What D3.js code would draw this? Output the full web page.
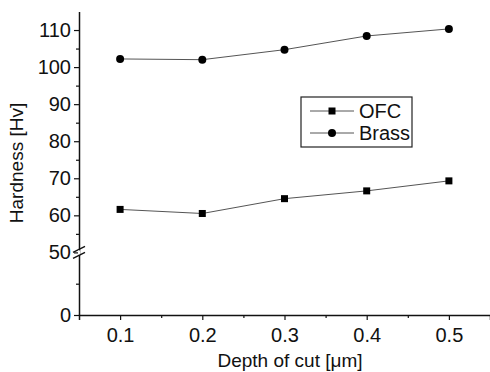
<!doctype html>
<html>
<head>
<script src="https://d3js.org/d3.v7.min.js"></script>
<style>
  body { margin: 0; background: #fff; }
  text { font-family: "Liberation Sans", Arial, sans-serif; fill: #111; }
</style>
</head>
<body>
<svg width="490" height="372"></svg>
<script>

var depth = [0.1, 0.2, 0.3, 0.4, 0.5];
var ofc = [61.6, 60.5, 64.5, 66.6, 69.3];
var brass = [102.2, 102.0, 104.7, 108.4, 110.3];
var xTicks = [0.1, 0.2, 0.3, 0.4, 0.5];
var yTicksUpper = [50, 60, 70, 80, 90, 100, 110];
var yTicksLower = [0];

var svg = d3.select("svg");

var x0 = 79, yBase = 315, yBreak = 252.4;

var x = d3.scaleLinear().domain([0.05, 0.55]).range([x0, 490]);
// broken y axis: two linear pieces
var yUp = d3.scaleLinear().domain([50, 115]).range([yBreak, 11.5]);
var yLo = d3.scaleLinear().domain([0, 50]).range([yBase, yBreak]);

// x axis
svg.append("g")
    .attr("transform", "translate(0," + yBase + ")")
    .call(d3.axisBottom(x).tickValues(xTicks).tickSize(5).tickPadding(8).tickFormat(d3.format(".1f")));
svg.append("g")
    .attr("transform", "translate(0," + yBase + ")")
    .call(d3.axisBottom(x).tickValues([0.15, 0.25, 0.35, 0.45]).tickSize(3).tickFormat(""))
    .select(".domain").remove();

// y axis upper part
svg.append("g")
    .attr("transform", "translate(" + x0 + ",0)")
    .call(d3.axisLeft(yUp).tickValues(yTicksUpper).tickSize(5).tickPadding(3).tickSizeOuter(0));
svg.append("g")
    .attr("transform", "translate(" + x0 + ",0)")
    .call(d3.axisLeft(yUp).tickValues([55, 65, 75, 85, 95, 105]).tickSize(3).tickFormat(""))
    .select(".domain").remove();

// y axis lower part
svg.append("g")
    .attr("transform", "translate(" + x0 + ",0)")
    .call(d3.axisLeft(yLo).tickValues(yTicksLower).tickSize(5).tickPadding(3).tickSizeOuter(0));
svg.append("g")
    .attr("transform", "translate(" + x0 + ",0)")
    .call(d3.axisLeft(yLo).tickValues([25]).tickSize(3).tickFormat(""))
    .select(".domain").remove();

svg.selectAll(".domain").attr("stroke", "#111").attr("stroke-width", 1.5);
svg.selectAll(".tick line").attr("stroke", "#111").attr("stroke-width", 1.2);
svg.selectAll(".tick text").attr("font-size", 20).attr("font-family", null).attr("fill", "#111");

// break marks on y axis
[-3, 3].forEach(function(dy) {
  svg.append("line")
      .attr("x1", x0 - 6).attr("y1", yBreak + dy + 3)
      .attr("x2", x0 + 6).attr("y2", yBreak + dy - 3)
      .attr("stroke", "#111").attr("stroke-width", 1.5);
});
svg.append("rect").attr("x", x0 - 1).attr("y", yBreak - 2).attr("width", 2).attr("height", 4).attr("fill", "#fff");

// series
var line = d3.line()
    .x(function(d, i) { return x(depth[i]); })
    .y(function(d) { return yUp(d); });

svg.append("path").datum(ofc)
    .attr("d", line).attr("fill", "none").attr("stroke", "#555").attr("stroke-width", 1);
svg.append("path").datum(brass)
    .attr("d", line).attr("fill", "none").attr("stroke", "#555").attr("stroke-width", 1);

svg.selectAll(".sq").data(ofc).enter().append("rect")
    .attr("x", function(d, i) { return x(depth[i]) - 3.5; })
    .attr("y", function(d) { return yUp(d) - 3.5; })
    .attr("width", 7).attr("height", 7).attr("fill", "#000");

svg.selectAll(".ci").data(brass).enter().append("circle")
    .attr("cx", function(d, i) { return x(depth[i]); })
    .attr("cy", function(d) { return yUp(d); })
    .attr("r", 4).attr("fill", "#000");

// legend
var lg = svg.append("g").attr("transform", "translate(301,97)");
lg.append("rect").attr("width", 111).attr("height", 50)
    .attr("fill", "#fff").attr("stroke", "#222").attr("stroke-width", 1.2);
lg.append("line").attr("x1", 9).attr("x2", 53).attr("y1", 14).attr("y2", 14).attr("stroke", "#555");
lg.append("rect").attr("x", 27.5).attr("y", 10.5).attr("width", 7).attr("height", 7).attr("fill", "#000");
lg.append("text").attr("x", 58).attr("y", 21).attr("font-size", 20).text("OFC");
lg.append("line").attr("x1", 9).attr("x2", 53).attr("y1", 36).attr("y2", 36).attr("stroke", "#555");
lg.append("circle").attr("cx", 31).attr("cy", 36).attr("r", 4).attr("fill", "#000");
lg.append("text").attr("x", 58).attr("y", 43).attr("font-size", 20).text("Brass");

// axis titles
svg.append("text")
    .attr("x", 290).attr("y", 367)
    .attr("text-anchor", "middle").attr("font-size", 19)
    .text("Depth of cut [\u03bcm]");
svg.append("text")
    .attr("transform", "translate(23,163) rotate(-90)")
    .attr("text-anchor", "middle").attr("font-size", 19)
    .text("Hardness [Hv]");
</script>
</body>
</html>
